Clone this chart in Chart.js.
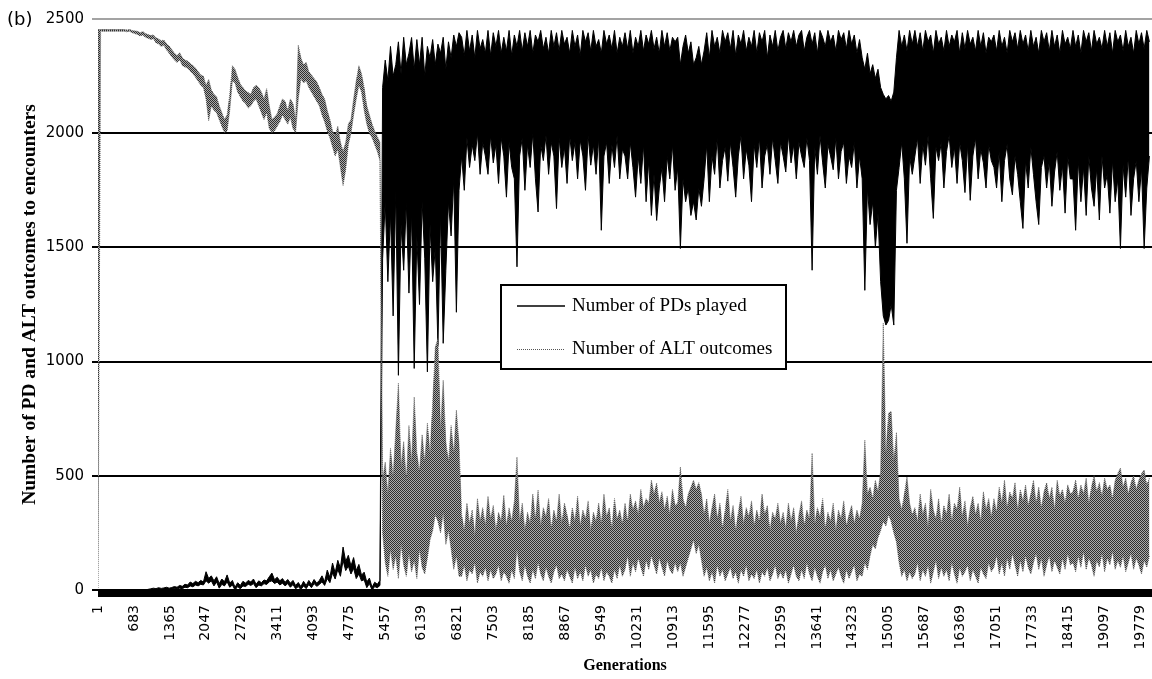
<!DOCTYPE html>
<html>
<head>
<meta charset="utf-8">
<script src="https://cdn.jsdelivr.net/npm/chart.js@4.4.1/dist/chart.umd.min.js"></script>
<style>
  html, body { margin: 0; padding: 0; background: #fff; }
  #wrap { width: 1152px; height: 679px; position: relative; }
</style>
</head>
<body>
<div id="wrap"><canvas id="chart" width="1152" height="679"></canvas></div>
<script>
// One sample every 50 generations.
// "top" = upper tips of the dense trace, "bottom" = lower tips.
const GEN_STEP = 50;

const xTickLabels = [1, 683, 1365, 2047, 2729, 3411, 4093, 4775, 5457, 6139, 6821, 7503, 8185, 8867, 9549,
  10231, 10913, 11595, 12277, 12959, 13641, 14323, 15005, 15687, 16369, 17051, 17733, 18415, 19097, 19779];
const yTickValues = [0, 500, 1000, 1500, 2000, 2500];

const pdTop = [
  0,0,0,0,0,0,0,0,0,0,
  0,0,0,0,0,0,0,0,0,3,
  5,8,6,10,7,9,12,8,11,15,
  12,20,16,25,22,35,28,38,32,42,
  35,80,50,62,40,58,28,48,36,66,
  30,42,12,32,20,38,30,42,35,48,
  25,40,32,44,40,58,74,45,56,40,
  50,34,46,30,42,20,33,15,38,20,
  42,25,46,30,42,62,36,87,55,118,
  75,130,95,188,125,152,105,142,85,112,
  65,78,35,52,12,34,25,42,2200,2320,
  2230,2380,2250,2300,2400,2260,2420,2300,2350,2419,
  2280,2410,2300,2420,2250,2380,2330,2410,2300,2390,
  2350,2420,2280,2400,2330,2430,2380,2440,2420,2340,
  2450,2360,2430,2330,2450,2370,2410,2350,2450,2340,
  2440,2380,2450,2350,2420,2360,2450,2340,2430,2380,
  2450,2360,2440,2380,2450,2350,2430,2400,2450,2370,
  2420,2350,2450,2380,2440,2360,2450,2390,2420,2350,
  2450,2380,2430,2340,2450,2400,2440,2360,2450,2380,
  2410,2350,2450,2390,2430,2370,2450,2350,2420,2380,
  2440,2370,2450,2350,2420,2380,2450,2360,2430,2390,
  2450,2370,2420,2350,2450,2380,2440,2360,2420,2400,
  2420,2300,2380,2430,2350,2400,2300,2330,2380,2300,
  2360,2440,2330,2450,2380,2420,2350,2450,2400,2440,
  2370,2450,2340,2430,2390,2450,2360,2420,2380,2450,
  2350,2440,2400,2450,2330,2430,2380,2450,2360,2420,
  2450,2370,2440,2400,2450,2380,2430,2450,2360,2420,
  2450,2390,2440,2350,2450,2420,2380,2450,2400,2430,
  2360,2450,2410,2440,2370,2450,2390,2430,2350,2410,
  2330,2280,2350,2260,2300,2240,2280,2200,2170,2150,
  2165,2140,2180,2330,2450,2380,2430,2360,2450,2390,
  2450,2380,2440,2360,2450,2400,2430,2350,2450,2390,
  2420,2360,2450,2380,2430,2400,2450,2350,2440,2370,
  2450,2390,2420,2360,2450,2380,2440,2350,2420,2400,
  2430,2360,2450,2380,2420,2350,2450,2400,2440,2370,
  2450,2390,2430,2360,2450,2380,2420,2350,2450,2400,
  2440,2360,2450,2380,2430,2350,2450,2390,2420,2370,
  2450,2380,2430,2350,2450,2400,2440,2360,2450,2390,
  2420,2370,2450,2380,2440,2350,2450,2400,2430,2360,
  2450,2380,2420,2350,2450,2390,2440,2370,2450,2400
];

const pdBottom = [
  0,0,0,0,0,0,0,0,0,0,
  0,0,0,0,0,0,0,0,0,0,
  0,2,0,3,1,2,4,2,4,6,
  4,8,6,12,10,18,14,22,18,25,
  22,40,30,40,18,35,8,25,18,36,
  12,22,0,15,5,18,15,25,20,28,
  10,22,18,28,24,36,40,28,35,22,
  30,18,28,12,24,5,15,2,18,6,
  24,10,28,16,24,36,20,50,32,75,
  48,90,60,130,85,105,70,95,50,70,
  40,45,10,28,0,15,10,20,1450,1700,
  1350,1650,1200,1750,940,1600,1400,1700,1300,1650,
  970,1550,1250,1700,1450,955,1600,1350,1500,1070,
  1650,1080,1400,1700,1550,1800,1216,1750,1900,1750,
  1980,1850,1950,1880,2000,1820,1960,1900,1820,1990,
  1870,1950,1780,1980,1900,1720,1960,1850,1800,1415,
  1900,1980,1750,1950,1850,2000,1800,1655,1950,1880,
  1990,1820,1960,1900,1670,1980,1850,1940,1780,1990,
  1880,1960,1800,1970,1900,1750,1990,1860,1950,1820,
  1980,1575,1900,1960,1780,1950,1850,1990,1800,1930,
  1900,1800,1960,1850,1720,1900,1780,1950,1700,1880,
  1640,1820,1618,1760,1850,1700,1900,1800,1950,1750,
  1850,1495,1800,1700,1760,1640,1700,1620,1760,1680,
  1800,1950,1700,1900,1820,1980,1760,1880,1940,1790,
  1960,1850,1720,1900,1990,1800,1930,1860,1700,1950,
  1850,1980,1760,1900,1950,1820,1980,1880,1780,1960,
  1900,1830,1990,1870,1950,1800,1960,1900,1850,1980,
  1880,1400,1940,1820,1990,1870,1760,1950,1900,1840,
  1980,1800,1920,1960,1780,1900,1850,1960,1760,1900,
  1800,1312,1760,1600,1700,1500,1650,1350,1200,1160,
  1180,1250,1160,1750,1850,1960,1800,1518,1900,1820,
  1900,1980,1780,1950,1860,1990,1800,1627,1940,1880,
  1960,1760,1920,1990,1850,1940,1780,1960,1880,1740,
  1950,1706,1900,1980,1800,1930,1870,1760,1950,1880,
  1850,1760,1920,1700,1880,1950,1800,1730,1900,1820,
  1700,1583,1880,1760,1940,1820,1700,1600,1850,1900,
  1760,1880,1680,1830,1920,1750,1860,1650,1900,1800,
  1800,1575,1880,1700,1850,1640,1900,1760,1680,1850,
  1620,1900,1760,1820,1650,1880,1700,1800,1495,1860,
  1720,1900,1640,1800,1880,1700,1850,1495,1760,1900
];

const altTop = [
  2454,2454,2454,2454,2454,2454,2454,2454,2454,2454,
  2454,2452,2454,2450,2448,2446,2440,2445,2436,2432,
  2428,2430,2418,2412,2405,2408,2392,2382,2366,2350,
  2340,2352,2330,2320,2316,2305,2296,2285,2270,2255,
  2250,2210,2235,2190,2170,2160,2120,2090,2060,2080,
  2170,2295,2280,2245,2215,2200,2185,2178,2170,2200,
  2210,2200,2180,2150,2195,2120,2060,2070,2085,2120,
  2150,2140,2100,2150,2130,2060,2385,2330,2300,2310,
  2270,2255,2240,2225,2200,2170,2150,2100,2060,2010,
  1990,2030,1960,1920,1960,2040,2060,2150,2230,2295,
  2260,2200,2120,2080,2040,2010,1985,1960,480,560,
  420,620,500,700,905,540,650,480,720,560,
  845,600,520,680,560,730,600,820,1063,1100,
  700,918,650,560,720,600,787,640,330,260,
  380,290,350,240,400,300,360,280,410,310,
  370,260,340,300,415,280,360,300,390,582,
  300,380,260,340,290,420,310,437,280,360,
  320,400,270,350,300,420,290,380,330,270,
  360,300,410,280,350,310,390,260,340,300,
  380,290,420,320,360,270,400,310,350,290,
  380,300,420,350,390,330,440,360,400,380,
  481,420,468,380,430,350,410,330,440,370,
  380,538,400,360,420,450,480,440,470,420,
  330,400,290,360,420,310,380,270,350,440,
  300,370,260,340,410,290,360,320,390,280,
  350,300,420,330,370,260,340,310,380,290,
  340,270,380,300,360,250,330,390,280,350,
  310,599,290,360,320,400,270,340,300,380,
  260,350,310,390,280,330,370,290,350,310,
  380,656,420,450,400,480,430,520,1168,600,
  774,782,560,690,400,350,420,495,380,330,
  360,300,420,330,380,270,440,350,310,400,
  290,370,330,420,300,380,350,450,320,390,
  280,360,410,330,380,300,430,350,400,320,
  400,340,450,380,481,360,430,400,470,350,
  440,390,460,370,420,480,380,450,360,430,
  470,400,450,350,480,410,440,380,460,420,
  430,481,400,460,420,490,380,450,500,430,
  470,410,490,440,460,400,480,510,534,450,
  490,420,470,500,440,480,510,525,460,490
];

const altBottom = [
  0,2446,2446,2446,2446,2446,2446,2446,2446,2446,
  2446,2444,2446,2440,2436,2432,2426,2430,2420,2416,
  2410,2414,2396,2390,2380,2385,2365,2350,2335,2320,
  2310,2322,2296,2290,2285,2272,2260,2245,2228,2210,
  2200,2150,2055,2120,2100,2090,2060,2030,2003,2010,
  2100,2230,2220,2180,2160,2140,2130,2110,2120,2140,
  2150,2120,2090,2060,2090,2020,2003,2010,2030,2050,
  2080,2060,2040,2070,2020,2003,2150,2240,2220,2230,
  2200,2180,2160,2140,2120,2080,2050,2010,1980,1940,
  1900,1930,1850,1771,1840,1950,2000,2080,2150,2210,
  2180,2100,2040,2000,1980,1950,1920,1880,250,120,
  60,180,90,150,50,200,110,60,160,80,
  130,50,180,100,70,140,220,260,330,300,
  250,340,200,260,180,90,150,60,60,110,
  40,90,70,120,30,80,60,100,40,90,
  50,70,110,40,80,60,30,90,50,180,
  80,40,110,60,30,90,50,120,70,40,
  100,60,30,80,110,50,70,40,90,60,
  30,100,50,80,40,110,60,90,30,70,
  50,100,40,80,60,30,90,50,110,60,
  90,150,60,120,80,140,100,60,130,90,
  150,110,70,140,100,60,130,90,70,120,
  80,120,60,100,140,180,220,160,200,130,
  60,100,40,80,30,110,60,90,40,70,
  100,50,80,30,90,60,110,40,70,50,
  90,30,80,60,100,40,70,110,50,80,
  50,90,30,70,110,60,40,90,50,120,
  70,40,100,60,30,80,110,50,90,40,
  70,100,60,30,90,50,80,110,40,70,
  60,120,90,150,200,180,230,260,300,280,
  330,300,250,210,120,60,90,40,80,50,
  70,120,40,90,60,110,30,80,130,50,
  100,60,90,40,120,70,30,100,60,80,
  110,40,90,60,30,100,70,50,120,80,
  100,150,70,120,60,140,90,160,110,60,
  130,80,150,100,70,120,160,90,140,60,
  110,150,80,130,100,70,140,90,160,110,
  120,80,150,100,170,90,140,110,60,130,
  100,160,80,140,110,170,90,130,100,150,
  80,120,160,90,140,110,70,130,100,150
];

const legendLabels = ['Number of PDs played', 'Number of ALT outcomes'];

// sample i sits at generation 1 + i*GEN_STEP
const toPoints = arr => arr.map((v, i) => ({ x: 1 + i * GEN_STEP, y: v }));

const canvas = document.getElementById('chart');
const ctx = canvas.getContext('2d');

// dotted look of the dense ALT trace
const tile = document.createElement('canvas');
tile.width = 2;
tile.height = 2;
const tctx = tile.getContext('2d');
tctx.fillStyle = '#ababab';
tctx.fillRect(0, 0, 2, 2);
tctx.fillStyle = '#2e2e2e';
tctx.fillRect(0, 0, 1, 1);
tctx.fillRect(1, 1, 1, 1);
const altPattern = ctx.createPattern(tile, 'repeat');

const extras = {
  id: 'extras',
  afterDatasetsDraw(chart) {
    const c = chart.ctx;
    const area = chart.chartArea;
    // thick bottom axis band
    c.save();
    c.fillStyle = '#000';
    c.fillRect(area.left, area.bottom - 1, area.right - area.left, 8);
    c.restore();
  },
  afterDraw(chart) {
    const c = chart.ctx;
    c.save();
    // panel label
    c.fillStyle = '#000';
    c.font = '18px "DejaVu Sans"';
    c.textBaseline = 'middle';
    c.textAlign = 'left';
    c.fillText('(b)', 7, 20);

    // legend box
    c.fillStyle = '#fff';
    c.fillRect(501, 285, 285, 84);
    c.strokeStyle = '#000';
    c.lineWidth = 2;
    c.strokeRect(501, 285, 285, 84);

    c.lineWidth = 1.5;
    c.beginPath();
    c.moveTo(517, 306);
    c.lineTo(565, 306);
    c.stroke();

    c.lineWidth = 1;
    c.strokeStyle = '#555';
    c.setLineDash([1, 1]);
    c.beginPath();
    c.moveTo(517, 349.5);
    c.lineTo(565, 349.5);
    c.stroke();
    c.setLineDash([]);

    c.fillStyle = '#000';
    c.font = '19px "Liberation Serif"';
    c.fillText(legendLabels[0], 572, 306);
    c.fillText(legendLabels[1], 572, 349);
    c.restore();
  }
};

new Chart(ctx, {
  type: 'line',
  data: {
    datasets: [
      {
        label: legendLabels[1],
        data: toPoints(altTop),
        borderColor: '#6a6a6a',
        borderWidth: 1,
        borderDash: [1, 1],
        backgroundColor: altPattern,
        fill: '+1',
        pointRadius: 0
      },
      {
        label: 'ALT low',
        data: toPoints(altBottom),
        borderColor: '#6a6a6a',
        borderWidth: 1,
        borderDash: [1, 1],
        fill: false,
        pointRadius: 0
      },
      {
        label: legendLabels[0],
        data: toPoints(pdTop),
        borderColor: '#000',
        borderWidth: 1,
        backgroundColor: '#000',
        fill: '+1',
        pointRadius: 0
      },
      {
        label: 'PD low',
        data: toPoints(pdBottom),
        borderColor: '#000',
        borderWidth: 1,
        fill: false,
        pointRadius: 0
      }
    ]
  },
  options: {
    responsive: false,
    animation: false,
    layout: { padding: { top: 19, right: 0, bottom: 0, left: 0 } },
    elements: { line: { tension: 0 } },
    plugins: {
      legend: { display: false },
      tooltip: { enabled: false }
    },
    scales: {
      x: {
        type: 'linear',
        min: 1,
        max: 20000,
        afterBuildTicks: s => { s.ticks = xTickLabels.map(v => ({ value: v })); },
        afterFit: s => { s.height = 89; s.paddingRight = 0; s.paddingLeft = 0; },
        grid: { display: false, drawTicks: false },
        border: { display: false },
        ticks: {
          autoSkip: false,
          minRotation: 90,
          maxRotation: 90,
          padding: 15,
          color: '#000',
          font: { family: 'DejaVu Sans', size: 14 },
          callback: v => String(v)
        },
        title: {
          display: true,
          text: 'Generations',
          color: '#000',
          font: { family: 'Liberation Serif', size: 16, weight: 'bold' },
          padding: { top: 0, bottom: 4 }
        }
      },
      y: {
        min: 0,
        max: 2500,
        afterBuildTicks: s => { s.ticks = yTickValues.map(v => ({ value: v })); },
        afterFit: s => { s.width = 98; },
        grid: {
          color: c => (c.tick && c.tick.value === 2500 ? '#a3a3a3' : '#000'),
          lineWidth: 2,
          tickLength: 6
        },
        border: { display: false },
        ticks: {
          padding: 8,
          color: '#000',
          font: { family: 'DejaVu Sans', size: 15 },
          callback: v => String(v)
        },
        title: {
          display: true,
          text: 'Number of PD and ALT outcomes to encounters',
          color: '#000',
          font: { family: 'Liberation Serif', size: 19.5, weight: 'bold' },
          padding: { top: 18, bottom: 0 }
        }
      }
    }
  },
  plugins: [extras]
});
</script>
</body>
</html>
